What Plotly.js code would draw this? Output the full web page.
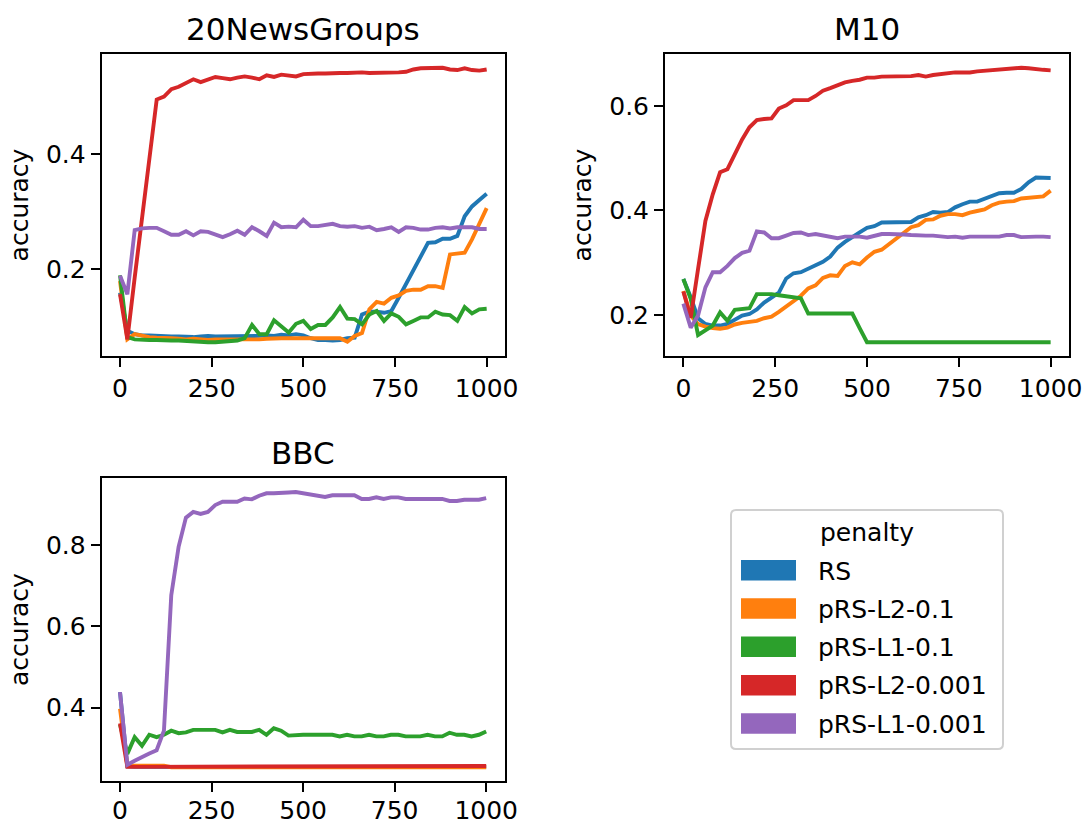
<!DOCTYPE html>
<html>
<head>
<meta charset="utf-8">
<script src="https://cdn.plot.ly/plotly-3.0.1.min.js"></script>
<style>html,body{margin:0;padding:0;background:#fff}#chart{width:1088px;height:826px}</style>
</head>
<body>
<div id="chart"></div>
<script>
// ---------- data ----------
const steps = [0,20,40,60,80,100,120,140,160,180,
  200,220,240,260,280,300,320,340,360,380,
  400,420,440,460,480,500,520,540,560,580,
  600,620,640,660,680,700,720,740,760,780,
  800,820,840,860,880,900,920,940,960,980,1000];

const seriesNames = ["RS","pRS-L2-0.1","pRS-L1-0.1","pRS-L2-0.001","pRS-L1-0.001"];
const seriesColors = ["#1f77b4","#ff7f0e","#2ca02c","#d62728","#9467bd"];
const panelTitles = ["20NewsGroups","M10","BBC"];
const yLabel = "accuracy";
const legendTitle = "penalty";
const xTicks = [0,250,500,750,1000];

// 20NewsGroups
const ng_RS = [0.160,0.094,0.088,0.086,0.086,0.085,0.085,0.084,0.084,0.083,
  0.083,0.084,0.085,0.084,0.084,0.084,0.084,0.084,0.085,0.085,
  0.086,0.085,0.087,0.086,0.088,0.086,0.081,0.078,0.078,0.077,
  0.078,0.081,0.082,0.122,0.127,0.127,0.125,0.128,0.151,0.175,
  0.199,0.223,0.246,0.247,0.253,0.253,0.258,0.292,0.309,0.320,0.331];
const ng_L2_01 = [0.180,0.079,0.088,0.085,0.083,0.082,0.082,0.081,0.080,0.079,
  0.080,0.079,0.078,0.079,0.079,0.079,0.079,0.079,0.078,0.079,
  0.080,0.081,0.081,0.081,0.081,0.082,0.082,0.081,0.081,0.081,
  0.081,0.075,0.085,0.090,0.131,0.144,0.141,0.151,0.155,0.163,
  0.165,0.165,0.171,0.171,0.168,0.226,0.227,0.229,0.252,0.278,0.306];
const ng_L1_01 = [0.190,0.083,0.079,0.078,0.078,0.078,0.077,0.077,0.077,0.076,
  0.075,0.075,0.074,0.074,0.075,0.076,0.077,0.081,0.104,0.088,
  0.088,0.112,0.101,0.091,0.106,0.111,0.097,0.104,0.104,0.117,
  0.135,0.115,0.114,0.105,0.122,0.128,0.111,0.124,0.118,0.105,
  0.111,0.117,0.117,0.127,0.122,0.121,0.111,0.135,0.124,0.131,0.132];
const ng_L2_0001 = [0.157,0.079,0.186,0.286,0.390,0.494,0.499,0.512,0.516,0.522,
  0.529,0.524,0.529,0.533,0.531,0.529,0.532,0.534,0.532,0.529,
  0.536,0.533,0.537,0.536,0.534,0.538,0.539,0.539,0.539,0.540,
  0.540,0.540,0.541,0.541,0.540,0.540,0.541,0.541,0.541,0.542,
  0.546,0.548,0.548,0.548,0.549,0.546,0.545,0.548,0.545,0.544,0.546];
const ng_L1_0001 = [0.189,0.157,0.268,0.271,0.272,0.272,0.266,0.260,0.260,0.266,
  0.259,0.266,0.265,0.260,0.256,0.261,0.267,0.260,0.273,0.266,
  0.258,0.281,0.273,0.274,0.273,0.286,0.275,0.275,0.277,0.279,
  0.275,0.274,0.275,0.272,0.274,0.268,0.270,0.273,0.265,0.273,
  0.272,0.269,0.269,0.272,0.273,0.271,0.273,0.273,0.273,0.270,0.270];

// M10
const m10_RS = [0.269,0.234,0.194,0.183,0.180,0.180,0.183,0.190,0.199,0.202,
  0.211,0.224,0.234,0.243,0.270,0.280,0.282,0.289,0.297,0.302,
  0.312,0.329,0.340,0.350,0.358,0.367,0.370,0.377,0.377,0.378,
  0.377,0.378,0.387,0.391,0.397,0.396,0.397,0.406,0.412,0.417,
  0.417,0.422,0.427,0.433,0.434,0.434,0.441,0.454,0.463,0.462,0.462];
const m10_L2_01 = [0.246,0.199,0.183,0.178,0.175,0.174,0.176,0.182,0.185,0.187,
  0.189,0.194,0.197,0.206,0.216,0.225,0.237,0.251,0.257,0.271,
  0.276,0.275,0.294,0.301,0.297,0.310,0.321,0.325,0.336,0.348,
  0.359,0.368,0.372,0.382,0.383,0.390,0.393,0.393,0.391,0.396,
  0.399,0.402,0.410,0.415,0.417,0.418,0.423,0.424,0.425,0.427,0.438];
const m10_L1_01 = [0.269,0.231,0.162,0.172,0.180,0.205,0.189,0.210,0.211,0.213,
  0.240,0.240,0.240,0.238,0.236,0.234,0.232,0.203,0.203,0.203,
  0.203,0.203,0.203,0.203,0.175,0.148,0.148,0.148,0.148,0.148,
  0.148,0.148,0.148,0.148,0.148,0.148,0.148,0.148,0.148,0.148,
  0.148,0.148,0.148,0.148,0.148,0.148,0.148,0.148,0.148,0.148,0.148];
const m10_L2_0001 = [0.245,0.195,0.288,0.380,0.431,0.473,0.479,0.508,0.536,0.559,
  0.573,0.575,0.576,0.595,0.601,0.611,0.611,0.611,0.619,0.629,
  0.634,0.640,0.645,0.648,0.650,0.654,0.654,0.656,0.656,0.657,
  0.657,0.657,0.659,0.656,0.659,0.661,0.662,0.664,0.664,0.664,
  0.666,0.667,0.668,0.670,0.671,0.671,0.673,0.672,0.670,0.669,0.668];
const m10_L1_0001 = [0.222,0.176,0.199,0.253,0.282,0.282,0.294,0.309,0.319,0.323,
  0.360,0.358,0.347,0.347,0.352,0.357,0.358,0.353,0.355,0.352,
  0.349,0.347,0.350,0.350,0.350,0.348,0.352,0.355,0.355,0.355,
  0.354,0.353,0.352,0.352,0.352,0.350,0.349,0.350,0.348,0.350,
  0.350,0.350,0.350,0.350,0.353,0.353,0.349,0.350,0.350,0.350,0.349];

// BBC
const bbc_RS = [0.438,0.255,0.254,0.254,0.254,0.254,0.254,0.254,0.254,0.254,
  0.254,0.254,0.254,0.254,0.254,0.254,0.254,0.254,0.254,0.254,
  0.254,0.254,0.254,0.254,0.254,0.254,0.254,0.254,0.254,0.254,
  0.254,0.254,0.254,0.254,0.254,0.254,0.254,0.254,0.254,0.254,
  0.254,0.254,0.254,0.254,0.254,0.254,0.254,0.254,0.254,0.254,0.254];
const bbc_L2_01 = [0.397,0.256,0.257,0.257,0.257,0.257,0.257,0.253,0.253,0.253,
  0.253,0.253,0.253,0.253,0.253,0.253,0.253,0.253,0.253,0.253,
  0.253,0.253,0.253,0.253,0.253,0.253,0.253,0.253,0.253,0.253,
  0.253,0.253,0.253,0.253,0.253,0.253,0.253,0.253,0.253,0.253,
  0.253,0.253,0.253,0.253,0.253,0.253,0.253,0.253,0.253,0.253,0.253];
const bbc_L1_01 = [0.358,0.286,0.327,0.306,0.333,0.327,0.333,0.343,0.337,0.339,
  0.345,0.345,0.343,0.345,0.339,0.345,0.340,0.340,0.340,0.345,
  0.333,0.349,0.343,0.331,0.333,0.333,0.333,0.333,0.333,0.333,
  0.329,0.333,0.329,0.329,0.333,0.329,0.329,0.333,0.333,0.329,
  0.329,0.329,0.333,0.329,0.329,0.338,0.333,0.333,0.329,0.333,0.341];
const bbc_L2_0001 = [0.361,0.254,0.254,0.254,0.256,0.254,0.254,0.254,0.254,0.254,
  0.254,0.254,0.254,0.254,0.254,0.254,0.254,0.256,0.254,0.254,
  0.256,0.254,0.254,0.256,0.256,0.254,0.254,0.254,0.254,0.256,
  0.254,0.254,0.254,0.256,0.254,0.254,0.256,0.254,0.256,0.254,
  0.256,0.256,0.256,0.256,0.256,0.256,0.256,0.256,0.256,0.256,0.256];
const bbc_L1_0001 = [0.438,0.259,0.269,0.279,0.287,0.295,0.343,0.677,0.796,0.868,
  0.882,0.877,0.882,0.899,0.907,0.907,0.907,0.915,0.913,0.922,
  0.928,0.928,0.928,0.930,0.931,0.928,0.925,0.924,0.919,0.923,
  0.923,0.923,0.923,0.914,0.914,0.918,0.914,0.918,0.918,0.914,
  0.914,0.914,0.914,0.914,0.914,0.909,0.909,0.912,0.912,0.912,0.916];

const panels = [
  [ng_RS, ng_L2_01, ng_L1_01, ng_L2_0001, ng_L1_0001],
  [m10_RS, m10_L2_01, m10_L1_01, m10_L2_0001, m10_L1_0001],
  [bbc_RS, bbc_L2_01, bbc_L1_01, bbc_L2_0001, bbc_L1_0001]
];

// ---------- layout geometry (pixels) ----------
const W = 1088, H = 826;
const FONT = "DejaVu Sans, Liberation Sans, sans-serif";
const boxes = [ // [left, top, right, bottom] in px
  [101.7, 54, 505, 356],
  [665, 54, 1069, 356],
  [101.7, 478.3, 504.5, 781]
];
const px = x => x / W;
const py = y => 1 - y / H;

const traces = [];
const layout = {
  width: W, height: H,
  margin: {l: 0, r: 0, t: 0, b: 0},
  paper_bgcolor: "#fff", plot_bgcolor: "#fff",
  showlegend: false,
  font: {family: FONT, size: 25, color: "#000"},
  annotations: [], shapes: []
};

panels.forEach((series, p) => {
  const ax = p === 0 ? "" : String(p + 1);
  let lo = Infinity, hi = -Infinity;
  series.forEach(s => s.forEach(v => { lo = Math.min(lo, v); hi = Math.max(hi, v); }));
  const pad = (hi - lo) * 0.05;
  series.forEach((s, k) => {
    traces.push({
      type: "scatter", mode: "lines", x: steps, y: s,
      name: seriesNames[k], xaxis: "x" + ax, yaxis: "y" + ax,
      line: {color: seriesColors[k], width: 3.9},
      showlegend: false
    });
  });
  const b = boxes[p];
  const common = {
    showgrid: false, zeroline: false, showline: true, linecolor: "#000",
    linewidth: 2, mirror: true, ticks: "outside", ticklen: 9, tickwidth: 2,
    tickcolor: "#000", tickfont: {family: FONT, size: 25, color: "#000"}
  };
  layout["xaxis" + ax] = Object.assign({}, common, {
    domain: [px(b[0]), px(b[2])], anchor: "y" + ax,
    range: [-50, 1050], tickvals: xTicks, ticktext: xTicks.map(String),
    ticklabelstandoff: p === 2 ? -3 : 0
  });
  layout["yaxis" + ax] = Object.assign({}, common, {
    domain: [py(b[3]), py(b[1])], anchor: "x" + ax,
    range: [lo - pad, hi + pad], dtick: 0.2, tick0: 0, tickformat: ".1f",
    title: {text: yLabel, font: {family: FONT, size: 25, color: "#000"}, standoff: 10}
  });
  layout.annotations.push({
    text: panelTitles[p], xref: "paper", yref: "paper",
    x: px((b[0] + b[2]) / 2), y: py(b[1]), xanchor: "center", yanchor: "bottom",
    yshift: 5, showarrow: false, font: {family: FONT, size: 31, color: "#000"}
  });
});

// ---------- legend (drawn as shapes + text) ----------
const L = {x0: 731, y0: 510, x1: 1003, y1: 749, r: 5};
const rr = `M ${px(L.x0 + L.r)} ${py(L.y0)} L ${px(L.x1 - L.r)} ${py(L.y0)} Q ${px(L.x1)} ${py(L.y0)} ${px(L.x1)} ${py(L.y0 + L.r)}
 L ${px(L.x1)} ${py(L.y1 - L.r)} Q ${px(L.x1)} ${py(L.y1)} ${px(L.x1 - L.r)} ${py(L.y1)}
 L ${px(L.x0 + L.r)} ${py(L.y1)} Q ${px(L.x0)} ${py(L.y1)} ${px(L.x0)} ${py(L.y1 - L.r)}
 L ${px(L.x0)} ${py(L.y0 + L.r)} Q ${px(L.x0)} ${py(L.y0)} ${px(L.x0 + L.r)} ${py(L.y0)} Z`;
layout.shapes.push({type: "path", xref: "paper", yref: "paper", path: rr,
  line: {color: "#d0d0d0", width: 2}, fillcolor: "rgba(255,255,255,0.8)"});
layout.annotations.push({
  text: legendTitle, xref: "paper", yref: "paper", x: px(867), y: py(532),
  xanchor: "center", yanchor: "middle", showarrow: false,
  font: {family: FONT, size: 25, color: "#000"}
});
seriesNames.forEach((n, k) => {
  const top = 560 + k * 38.3;
  layout.shapes.push({type: "rect", xref: "paper", yref: "paper",
    x0: px(741), x1: px(796), y0: py(top), y1: py(top + 20.5),
    fillcolor: seriesColors[k], line: {width: 0}});
  layout.annotations.push({
    text: n, xref: "paper", yref: "paper", x: px(816), y: py(top + 11),
    xanchor: "left", yanchor: "middle", showarrow: false,
    font: {family: FONT, size: 25, color: "#000"}
  });
});

Plotly.newPlot("chart", traces, layout, {staticPlot: true, displayModeBar: false});
</script>
</body>
</html>
